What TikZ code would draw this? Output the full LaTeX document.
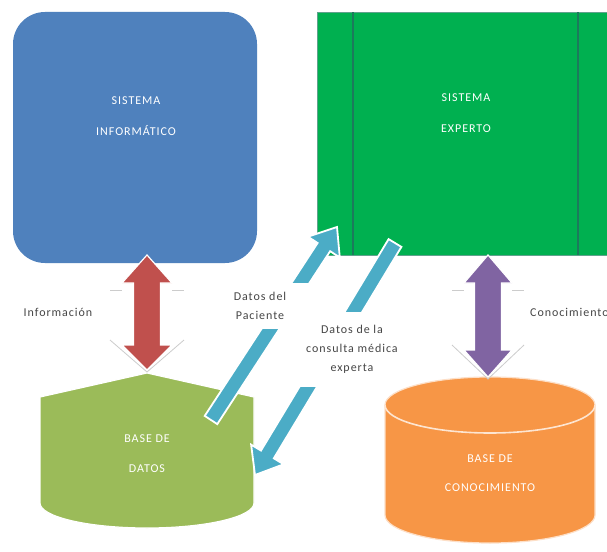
\documentclass[tikz,border=0pt]{standalone}
\usepackage{fontspec}
\setmainfont{Carlito}
\newfontfamily\labfont[LetterSpace=8]{Carlito}
\usetikzlibrary{calc}
\definecolor{boxblue}{RGB}{79,129,189}
\definecolor{boxgreen}{RGB}{0,176,80}
\definecolor{linegreen}{RGB}{28,122,92}
\definecolor{dbgreen}{RGB}{155,187,89}
\definecolor{kborange}{RGB}{247,150,70}
\definecolor{arrred}{RGB}{192,80,77}
\definecolor{arrpurple}{RGB}{128,100,162}
\definecolor{arrcyan}{RGB}{75,172,198}
\definecolor{labgray}{RGB}{70,70,70}
\newcommand\dblarrow[7]{%
  \path[dblarr, fill=#1] (#2) -- ($(#2)+(#4,#6)$) -- ($(#2)+(#5,#6)$) -- ($(#3)+(#5,-#7)$) -- ($(#3)+(#4,-#7)$) -- (#3) -- ($(#3)+(-#4,-#7)$) -- ($(#3)+(-#5,-#7)$) -- ($(#2)+(-#5,#6)$) -- ($(#2)+(-#4,#6)$) -- cycle;
  \draw[glow] ($(#2)+(-#4-12,#6+7)$) -- ($(#2)+(-#4,#6+7)$);
  \draw[glow] ($(#2)+(#4,#6+7)$) -- ($(#2)+(#4+12,#6+7)$);
  \draw[glow] ($(#3)+(-#4-12,-#7-5)$) -- ($(#3)+(0,2)$) -- ($(#3)+(#4+12,-#7-5)$);
}
\newcommand\cyanarrow[2]{%
  \coordinate (hb) at ($(#2)!24pt!(#1)$);
  \path[cyanarr] ($(#1)!7.5pt!90:(#2)$) -- ($(hb)!7.5pt!90:(#2)$) -- ($(hb)!19pt!90:(#2)$) -- (#2) -- ($(hb)!19pt!-90:(#2)$) -- ($(hb)!7.5pt!-90:(#2)$) -- ($(#1)!7.5pt!-90:(#2)$) -- cycle;
}
\begin{document}
\begin{tikzpicture}[x=1pt,y=-1pt,
  boxtext/.style={text=white, font={\labfont\fontsize{12}{14}\selectfont}, align=center, inner sep=0pt},
  lab/.style={text=labgray, font={\labfont\fontsize{12}{14}\selectfont}, align=center, inner sep=1pt},
  labbox/.style={lab, fill=white},
  cyanarr/.style={fill=arrcyan, draw=white, line width=1.8pt, line join=miter},
  dblarr/.style={draw=white, line width=1.2pt, line join=miter},
  glow/.style={draw=gray!40, line width=0.8pt}]
\useasboundingbox (0,0) rectangle (607,551);
\clip (0,0) rectangle (607,551);
\fill[white] (0,0) rectangle (607,551);

% Sistema informatico
\node[fill=boxblue, rounded corners=32pt, minimum width=244pt, minimum height=251pt, inner sep=0pt] (si) at (135,137.5) {};
% Sistema experto
\node[fill=boxgreen, draw=linegreen!70, line width=0.8pt, minimum width=298pt, minimum height=243pt, inner sep=0pt] (se) at (466,133.5) {};
\draw[linegreen, line width=1.3pt] (353,12.5) -- (353,254.5);
\draw[linegreen, line width=1.3pt] (578,12.5) -- (578,254.5);

% Base de datos
\coordinate (bd) at (147,450);
\path[fill=dbgreen, draw=white, line width=1.2pt] (40,397) -- (147,373) -- (254,397) -- (254,503) .. controls (254,516.8) and (206,528) .. (147,528) .. controls (88,528) and (40,516.8) .. (40,503) -- cycle;

% Base de conocimiento
\coordinate (bc) at (490,460);
\path[fill=kborange, draw=white!70!kborange, line width=1.2pt] (385,405) .. controls (385,389.5) and (432,377) .. (490,377) .. controls (548,377) and (595,389.5) .. (595,405) -- (595,515) .. controls (595,530.5) and (548,543) .. (490,543) .. controls (432,543) and (385,530.5) .. (385,515) -- cycle;
\draw[white!75!kborange, line width=1.6pt] (385,405) .. controls (385,420.5) and (432,433) .. (490,433) .. controls (548,433) and (595,420.5) .. (595,405);

% double arrows
\coordinate (r1) at (147,255);
\coordinate (r2) at (147,370);
\dblarrow{arrred}{r1}{r2}{25}{13.5}{28}{25}
\coordinate (v1) at (488,255);
\coordinate (v2) at (488,377);
\dblarrow{arrpurple}{v1}{v2}{24}{13.5}{28}{27}

% cyan arrows
\coordinate (p1) at (211,420);
\coordinate (p2) at (337,227);
\cyanarrow{p1}{p2}
\coordinate (q1) at (395,243);
\coordinate (q2) at (255,475);
\cyanarrow{q1}{q2}

% label boxes over the cyan arrows
\node[labbox, minimum width=104pt, minimum height=46pt] (dp) at (260,306) {Datos del\\[5pt]Paciente};
\node[labbox, minimum width=108pt, minimum height=75pt] (dc) at (352,349.5) {Datos de la\\[5pt]consulta médica\\[5pt]experta};

% texts in shapes
\node[boxtext] (sitxt) at (136,116) {SISTEMA\\[17pt]INFORMÁTICO};
\node[boxtext] (setxt) at (466,113) {SISTEMA\\[17pt]EXPERTO};
\node[boxtext] (bdtxt) at (147,453.5) {BASE DE\\[16pt]DATOS};
\node[boxtext] (bctxt) at (490,473) {BASE DE\\[15pt]CONOCIMIENTO};

% side labels
\node[lab] (inf) at (58,312) {Información};
\node[lab, anchor=west] (con) at (529,312) {Conocimiento};
\end{tikzpicture}
\end{document}
